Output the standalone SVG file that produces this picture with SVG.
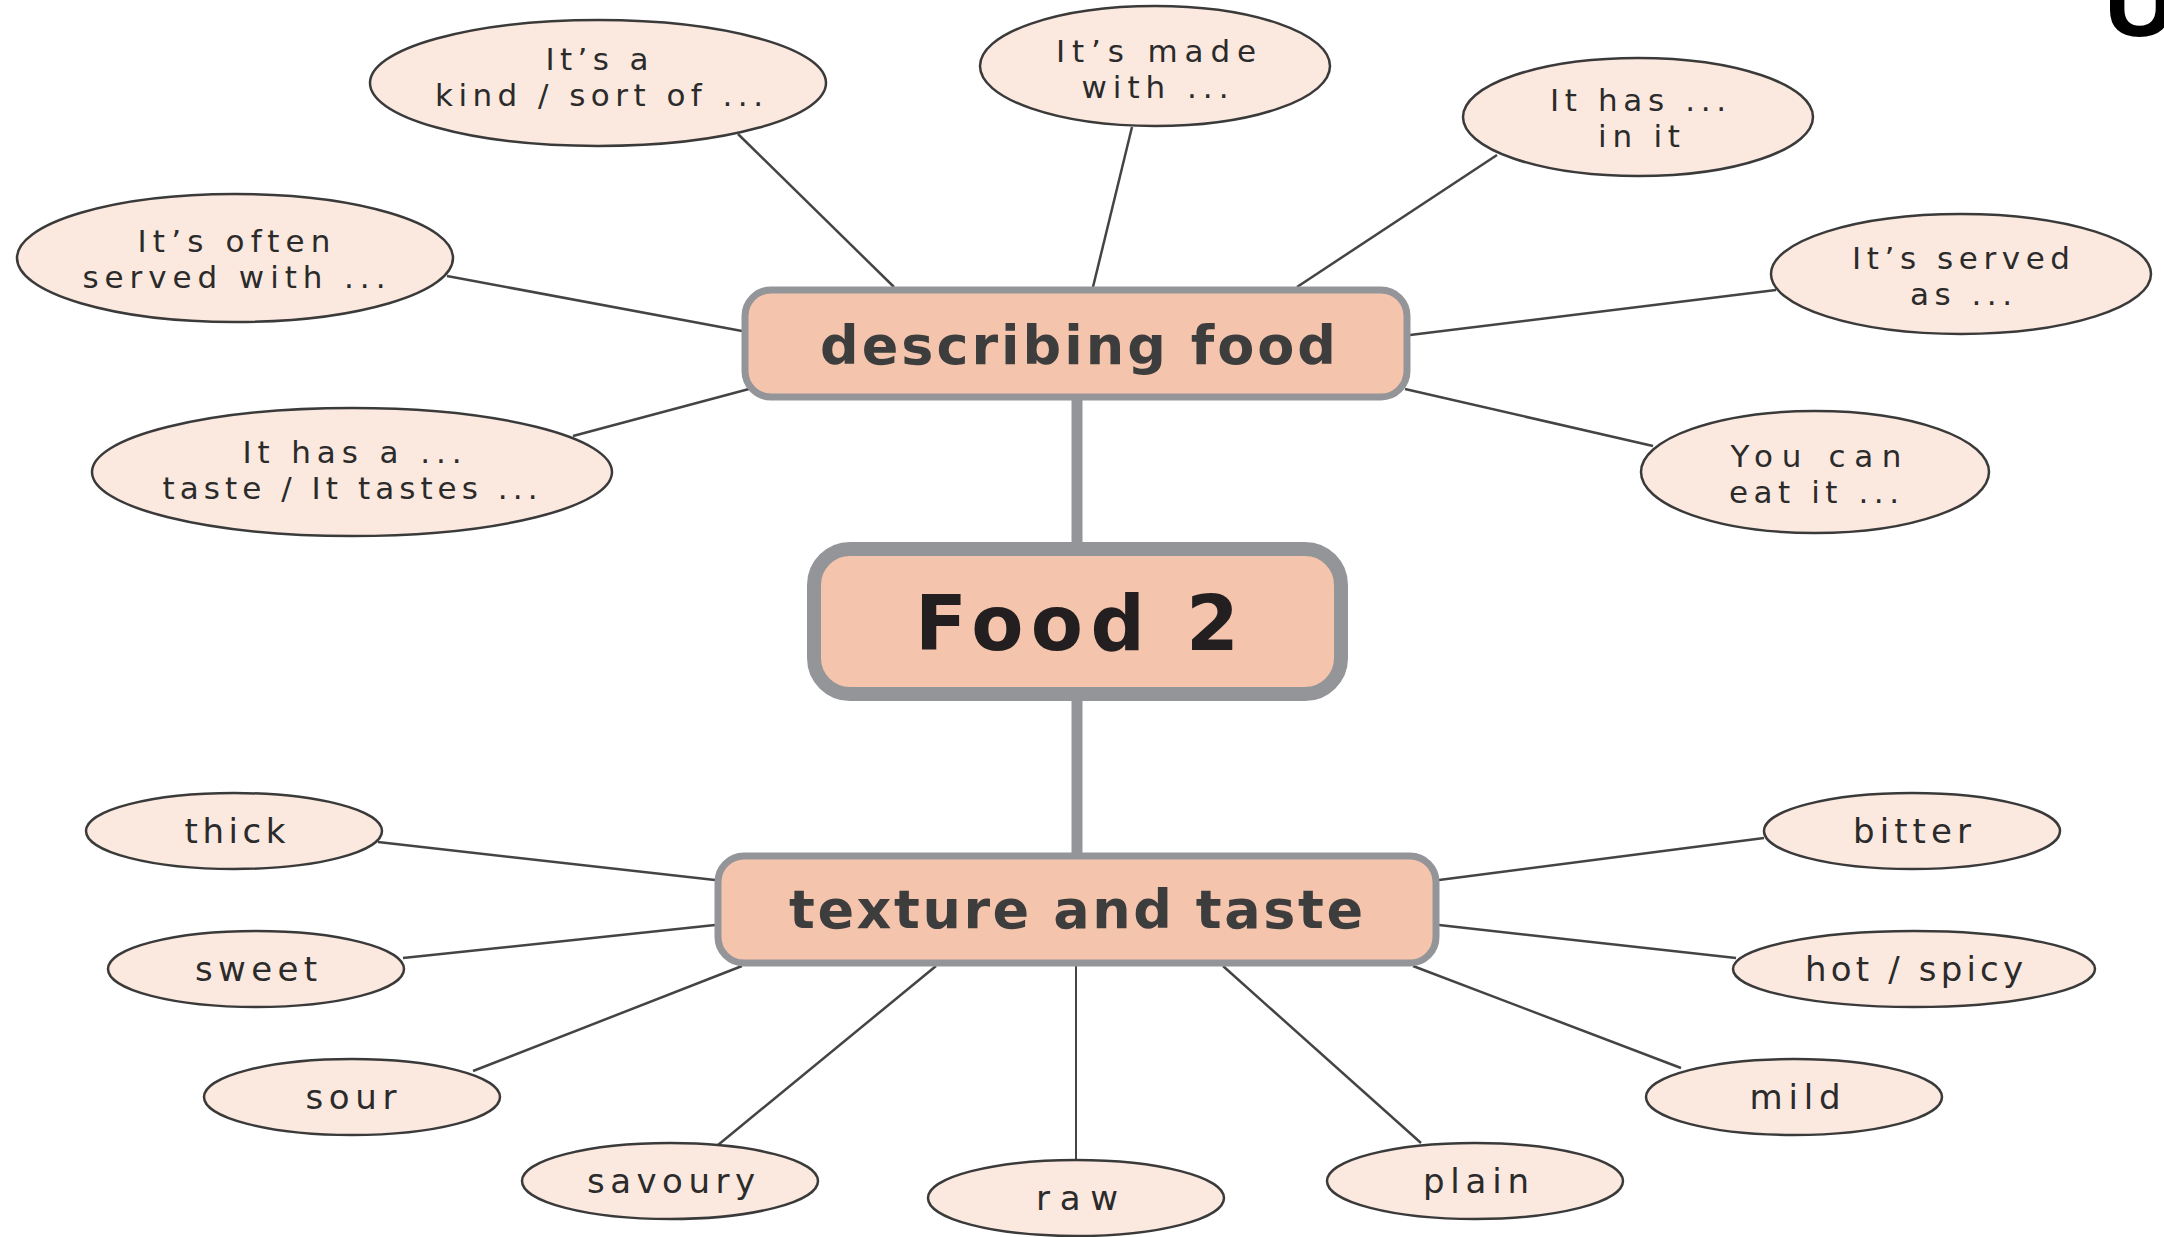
<svg xmlns="http://www.w3.org/2000/svg" width="2164" height="1237" viewBox="0 0 2164 1237">
<style>
.ell{fill:#fbe9df;stroke:#3a3a3a;stroke-width:2.5}
.et{font-family:"DejaVu Sans","Open Sans",sans-serif;font-size:31px;fill:#2b2b2b;text-anchor:middle}
.bw{font-size:34px}
.box{fill:#f4c4ad;stroke:#939598}
.bt{font-family:"DejaVu Sans","Open Sans",sans-serif;font-weight:700;fill:#3d3d3d;text-anchor:middle}
.ln{stroke:#444;stroke-width:2.5;fill:none}
.thick{stroke:#939598;stroke-width:11;fill:none}
</style>
<rect width="2164" height="1237" fill="#fff"/>
<g id="connectors">
<line class="thick" x1="1077" y1="400" x2="1077" y2="542"/>
<line class="thick" x1="1077" y1="701" x2="1077" y2="853"/>
<line class="ln" x1="738" y1="134" x2="894" y2="287"/>
<line class="ln" x1="1132" y1="127" x2="1093" y2="287"/>
<line class="ln" x1="1497" y1="155" x2="1297" y2="287"/>
<line class="ln" x1="1776" y1="290" x2="1410" y2="335"/>
<line class="ln" x1="1653" y1="446" x2="1405" y2="389"/>
<line class="ln" x1="447" y1="276" x2="742" y2="331"/>
<line class="ln" x1="573" y1="436" x2="749" y2="389"/>
<line class="ln" x1="378" y1="842" x2="715" y2="880"/>
<line class="ln" x1="403" y1="958" x2="715" y2="925"/>
<line class="ln" x1="473" y1="1071" x2="742" y2="966"/>
<line class="ln" x1="718" y1="1145" x2="936" y2="966"/>
<line class="ln" x1="1076" y1="1159" x2="1076" y2="966" style="stroke-width:2"/>
<line class="ln" x1="1421" y1="1143" x2="1223" y2="966"/>
<line class="ln" x1="1681" y1="1068" x2="1413" y2="966"/>
<line class="ln" x1="1736" y1="958" x2="1439" y2="925"/>
<line class="ln" x1="1764" y1="838" x2="1439" y2="880"/>
</g>
<g id="describing-food">
<rect class="box" x="745" y="290" width="662" height="107" rx="26" stroke-width="7"/>
<text class="bt" x="1078" y="364" font-size="54" textLength="516" lengthAdjust="spacing">describing food</text>
</g>
<g id="food-2">
<rect class="box" x="814" y="549" width="527" height="145" rx="36" stroke-width="14"/>
<text class="bt" x="1077" y="650" font-size="76" style="fill:#231f20" textLength="324" lengthAdjust="spacing">Food 2</text>
</g>
<g id="texture-and-taste">
<rect class="box" x="718" y="856" width="718" height="107" rx="26" stroke-width="7"/>
<text class="bt" x="1076" y="928" font-size="54" textLength="574" lengthAdjust="spacing">texture and taste</text>
</g>
<g id="kind-sort">
<ellipse class="ell" cx="598" cy="83" rx="228" ry="63"/>
<text class="et" x="597" y="70" textLength="103" lengthAdjust="spacing">It’s a</text>
<text class="et" x="599" y="106" textLength="328" lengthAdjust="spacing">kind / sort of ...</text>
</g>
<g id="made-with">
<ellipse class="ell" cx="1155" cy="66" rx="175" ry="60"/>
<text class="et" x="1156" y="62" textLength="200" lengthAdjust="spacing">It’s made</text>
<text class="et" x="1155" y="98" textLength="147" lengthAdjust="spacing">with ...</text>
</g>
<g id="has-in-it">
<ellipse class="ell" cx="1638" cy="117" rx="175" ry="59"/>
<text class="et" x="1638" y="111" textLength="176" lengthAdjust="spacing">It has ...</text>
<text class="et" x="1639" y="147" textLength="82" lengthAdjust="spacing">in it</text>
</g>
<g id="served-as">
<ellipse class="ell" cx="1961" cy="274" rx="190" ry="60"/>
<text class="et" x="1961" y="269" textLength="218" lengthAdjust="spacing">It’s served</text>
<text class="et" x="1961" y="305" textLength="102" lengthAdjust="spacing">as ...</text>
</g>
<g id="eat-it">
<ellipse class="ell" cx="1815" cy="472" rx="174" ry="61"/>
<text class="et" x="1816" y="467" textLength="171" lengthAdjust="spacing">You can</text>
<text class="et" x="1814" y="503" textLength="170" lengthAdjust="spacing">eat it ...</text>
</g>
<g id="served-with">
<ellipse class="ell" cx="235" cy="258" rx="218" ry="64"/>
<text class="et" x="234" y="252" textLength="193" lengthAdjust="spacing">It’s often</text>
<text class="et" x="234" y="288" textLength="303" lengthAdjust="spacing">served with ...</text>
</g>
<g id="taste">
<ellipse class="ell" cx="352" cy="472" rx="260" ry="64"/>
<text class="et" x="352" y="463" textLength="219" lengthAdjust="spacing">It has a ...</text>
<text class="et" x="350" y="499" textLength="375" lengthAdjust="spacing">taste / It tastes ...</text>
</g>
<g id="thick"><ellipse class="ell" cx="234" cy="831" rx="148" ry="38"/><text class="et bw" x="235" y="843" textLength="101" lengthAdjust="spacing">thick</text></g>
<g id="sweet"><ellipse class="ell" cx="256" cy="969" rx="148" ry="38"/><text class="et bw" x="256" y="981" textLength="122" lengthAdjust="spacing">sweet</text></g>
<g id="sour"><ellipse class="ell" cx="352" cy="1097" rx="148" ry="38"/><text class="et bw" x="351" y="1109" textLength="91" lengthAdjust="spacing">sour</text></g>
<g id="savoury"><ellipse class="ell" cx="670" cy="1181" rx="148" ry="38"/><text class="et bw" x="671" y="1193" textLength="168" lengthAdjust="spacing">savoury</text></g>
<g id="raw"><ellipse class="ell" cx="1076" cy="1198" rx="148" ry="38"/><text class="et bw" x="1077" y="1210" textLength="82" lengthAdjust="spacing">raw</text></g>
<g id="plain"><ellipse class="ell" cx="1475" cy="1181" rx="148" ry="38"/><text class="et bw" x="1476" y="1193" textLength="106" lengthAdjust="spacing">plain</text></g>
<g id="mild"><ellipse class="ell" cx="1794" cy="1097" rx="148" ry="38"/><text class="et bw" x="1795" y="1109" textLength="91" lengthAdjust="spacing">mild</text></g>
<g id="hot-spicy"><ellipse class="ell" cx="1914" cy="969" rx="181" ry="38"/><text class="et bw" x="1914" y="981" textLength="218" lengthAdjust="spacing">hot / spicy</text></g>
<g id="bitter"><ellipse class="ell" cx="1912" cy="831" rx="148" ry="38"/><text class="et bw" x="1912" y="843" textLength="118" lengthAdjust="spacing">bitter</text></g>
<text x="2104" y="36" font-family="Liberation Sans" font-weight="700" font-size="100" fill="#000">U</text>
</svg>
